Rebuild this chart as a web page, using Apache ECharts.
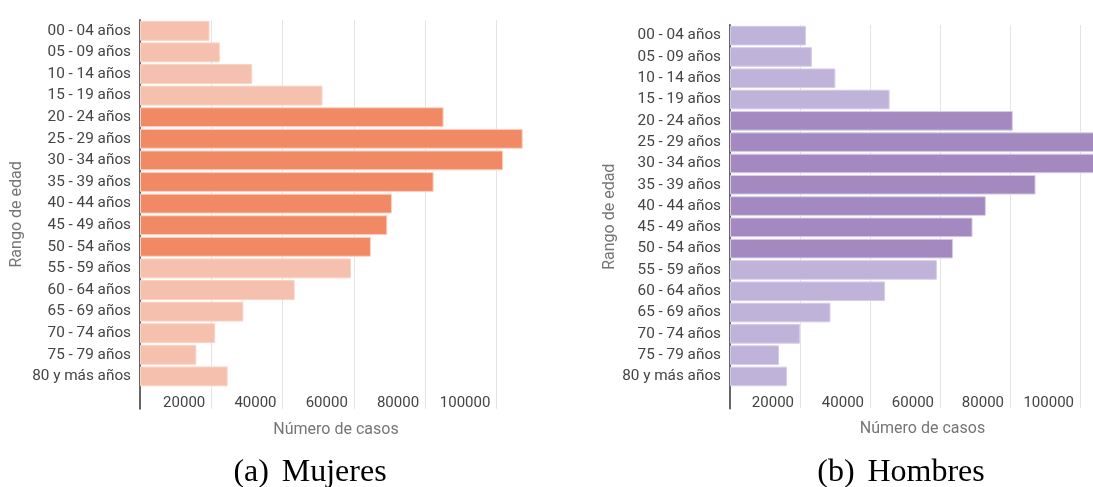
<!DOCTYPE html>
<html><head><meta charset="utf-8">
<script src="https://cdn.jsdelivr.net/npm/echarts@6/dist/echarts.min.js"></script>
<style>html,body{margin:0;padding:0;background:#fff}#c{width:1093px;height:487px}</style>
</head><body><div id="c"></div><script>
const categories = ['00 - 04 años','05 - 09 años','10 - 14 años','15 - 19 años','20 - 24 años','25 - 29 años','30 - 34 años','35 - 39 años','40 - 44 años','45 - 49 años','50 - 54 años','55 - 59 años','60 - 64 años','65 - 69 años','70 - 74 años','75 - 79 años','80 y más años'];
const mujeres = [19500, 22400, 31500, 51200, 85200, 107400, 101900, 82400, 70700, 69400, 64800, 59200, 43400, 29000, 21100, 15800, 24600];
const hombres = [21700, 23400, 30100, 45600, 80800, 109000, 107000, 87300, 73100, 69300, 63700, 59100, 44300, 28700, 20000, 14000, 16300];
const xTicks = [20000, 40000, 60000, 80000, 100000];
const xMax = 110000;
const xName = 'Número de casos';
const yName = 'Rango de edad';
const captions = ['(a)\u2009\u2009Mujeres', '(b)\u2009\u2009Hombres'];

// style (not data)
const darkFrom = 4, darkTo = 10;
const pal = [
  {dark:'#f18964', light:'#f5c0ad', border:'#f9d3c5'},
  {dark:'#a389bf', light:'#c0b3da', border:'#d6cce6'}
];
const font = 'Roboto';
const yCats = categories.concat(['']);

function xAxisOf(i){
  return {
    gridIndex:i, type:'value', min:0, max:xMax, interval:20000,
    axisLine:{show:false}, axisTick:{show:false, customValues:xTicks},
    splitLine:{show:true, lineStyle:{color:'#e4e4e4', width:1}},
    axisLabel:{inside:true, customValues:xTicks, align:'right', padding:[0,6,0,0], margin:-2,
      color:'#444', fontSize:15, fontFamily:font, formatter:(v)=>String(v)},
    name:xName, nameLocation:'middle', nameGap:13, nameMoveOverlap:false,
    nameTextStyle:{color:'#757575', fontSize:16, fontFamily:font}
  };
}
function yAxisOf(i, gap){
  return {
    gridIndex:i, type:'category', inverse:true, data:yCats,
    axisLine:{show:true, lineStyle:{color:'#666', width:2}},
    axisTick:{show:false}, splitLine:{show:false},
    axisLabel:{color:'#444', fontSize:15.3, fontFamily:font, margin:9},
    name:yName, nameLocation:'middle', nameGap:gap, nameMoveOverlap:false,
    nameTextStyle:{color:'#757575', fontSize:16, fontFamily:font}
  };
}
function seriesOf(i, vals){
  const p = pal[i];
  return {
    type:'bar', xAxisIndex:i, yAxisIndex:i, data:vals, barCategoryGap:'8%',
    clip:false, silent:true,
    itemStyle:{
      color:(d)=> (d.dataIndex>=darkFrom && d.dataIndex<=darkTo) ? p.dark : p.light,
      borderColor:p.border, borderWidth:1
    }
  };
}
const capStyle = {fontFamily:'Liberation Serif', fontSize:32, fontWeight:'normal', color:'#000'};
const chart = echarts.init(document.getElementById('c'), null, {renderer:'canvas'});
chart.setOption({
  animation:false,
  backgroundColor:'#fff',
  title:[
    {text:captions[0], left:305, top:452, textAlign:'center', textStyle:capStyle},
    {text:captions[1], left:896, top:452, textAlign:'center', textStyle:capStyle}
  ],
  grid:[
    {left:140, top:20, width:392, height:388.8, outerBoundsMode:'none', containLabel:false},
    {left:730, top:25, width:385, height:383.4, outerBoundsMode:'none', containLabel:false}
  ],
  xAxis:[xAxisOf(0), xAxisOf(1)],
  yAxis:[yAxisOf(0,115), yAxisOf(1,112)],
  series:[seriesOf(0, mujeres), seriesOf(1, hombres)]
});
</script></body></html>
